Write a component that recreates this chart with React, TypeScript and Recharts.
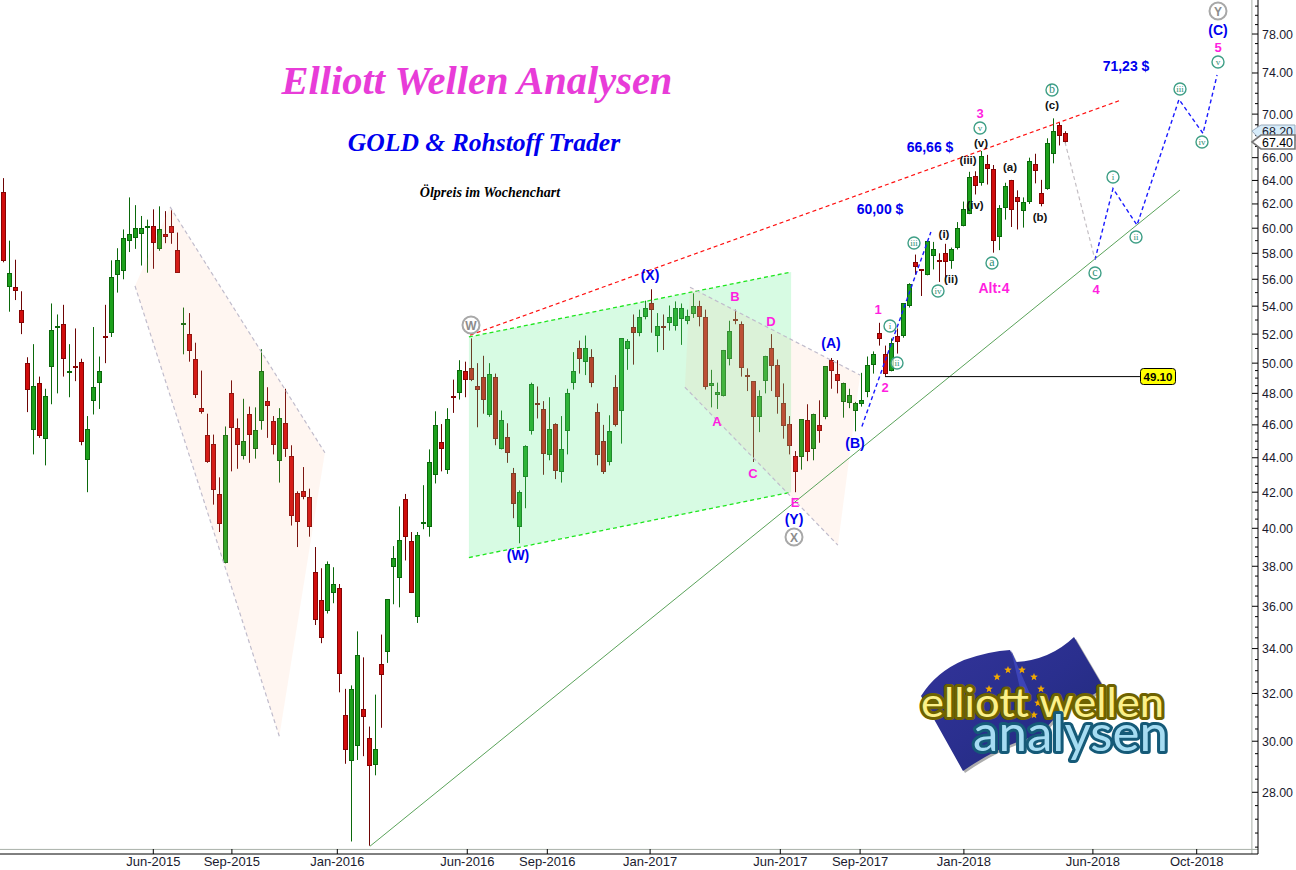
import React from "react";
import { ComposedChart, Bar, Scatter, XAxis, YAxis, ReferenceLine } from "recharts";

const opens = [
63.0,55.4,55.4,53.7,50.0,45.7,48.65,45.1,49.75,52.4,
52.75,49.35,49.8,50.05,43.85,47.5,48.7,51.9,52.05,56.35,
56.65,58.95,59.25,59.5,60.05,60.15,58.3,59.55,60.2,58.25,
52.75,52.0,50.25,47.05,45.4,44.85,41.9,38.15,48.05,45.8,
44.1,46.65,44.5,46.25,47.5,46.25,43.8,46.1,44.1,41.95,
42.05,41.7,37.7,36.3,35.75,36.65,36.9,31.1,29.2,29.8,
31.35,30.15,29.05,33.3,33.85,37.95,37.4,41.6,39.3,35.5,
40.3,40.05,43.0,44.95,43.3,47.85,48.05,49.5,49.7,48.5,
49.1,46.6,49.1,44.55,45.25,43.1,40.05,42.85,45.6,47.35,
47.0,44.15,46.05,43.15,45.6,48.65,51.05,50.05,50.45,46.8,
45.0,43.75,48.4,46.85,50.95,52.5,52.1,53.25,54.2,51.85,
52.55,52.8,52.6,53.1,52.9,53.4,54.05,53.2,48.45,47.9,
47.85,50.25,53.1,52.75,49.2,48.8,46.5,48.8,51.0,49.9,
47.4,46.05,44.1,44.05,46.3,44.55,46.0,46.5,50.2,49.3,
47.45,47.4,46.85,47.3,48.1,49.9,52.1,50.6,49.5,51.9,
51.9,54.05,57.3,56.75,56.35,57.8,57.45,58.0,57.4,58.4,
60.2,61.15,64.4,63.8,65.45,65.0,59.3,61.65,64.05,62.55,
61.4,62.15,65.45,62.9,63.3,66.35,68.95,68.2];
const highs = [
64.2,59.0,57.5,55.1,50.4,51.3,49.1,48.3,54.2,53.4,
54.1,51.3,52.4,50.3,46.55,52.5,50.45,54.1,57.45,58.4,
59.9,62.55,61.9,61.0,60.7,61.55,61.8,61.4,61.5,59.65,
53.9,53.5,51.4,49.5,46.7,45.4,42.85,45.9,48.85,46.4,
47.65,47.15,47.1,50.95,48.4,46.55,47.05,48.3,44.75,42.05,
43.45,42.2,39.0,37.9,38.25,37.95,37.1,32.2,32.35,34.8,
33.6,30.6,31.95,34.65,36.35,39.05,41.2,41.9,39.8,39.8,
42.4,44.5,46.85,46.05,47.05,48.9,50.2,50.1,51.7,50.0,
50.5,50.0,49.3,46.9,46.1,43.4,42.1,44.75,48.7,48.45,
47.5,47.75,46.1,46.55,48.3,50.75,51.55,51.9,50.95,47.35,
46.0,46.6,49.2,51.7,51.65,53.4,53.75,54.4,55.25,53.5,
53.4,54.05,54.35,54.2,53.75,54.95,54.4,53.75,49.55,48.7,
50.9,52.95,53.75,52.9,49.65,48.8,48.2,50.5,52.0,50.25,
48.65,46.55,44.4,46.35,47.3,46.7,47.55,49.8,50.35,50.2,
48.7,48.3,47.45,49.35,50.45,50.8,52.8,51.2,51.7,52.4,
54.2,55.7,57.9,56.75,58.95,58.9,58.0,58.75,58.45,60.5,
62.2,64.75,64.8,66.6,66.25,65.35,61.9,63.8,64.05,63.15,
62.55,66.0,66.35,64.05,67.75,69.6,69.2,68.4];
const lows = [
57.3,53.6,54.45,52.0,46.8,44.2,45.2,43.55,47.3,48.0,
49.1,47.75,48.8,44.75,42.0,46.65,47.0,50.0,51.8,55.0,
56.0,58.1,58.35,57.05,56.5,56.8,58.2,58.8,58.75,56.5,
50.6,50.1,47.7,46.7,43.7,41.3,39.8,38.15,43.2,43.35,
43.9,43.7,43.95,45.7,45.2,44.2,42.55,44.05,40.15,39.0,
41.6,39.55,35.1,34.25,35.65,36.15,32.05,29.1,26.2,29.25,
29.4,26.05,28.65,30.55,33.35,36.1,35.95,38.3,36.65,35.2,
39.95,39.55,42.5,43.2,43.05,46.75,47.6,47.75,48.8,45.85,
46.7,46.5,44.75,44.5,43.7,40.55,39.2,41.1,45.4,46.4,
43.0,43.85,42.75,42.55,44.2,48.25,49.3,49.2,48.4,43.55,
43.05,43.55,45.9,44.85,49.55,49.9,51.85,53.05,52.1,50.75,
50.9,52.25,52.25,51.25,52.7,53.15,52.55,48.25,47.1,47.0,
47.8,49.85,52.7,49.1,48.15,43.75,45.55,48.0,48.15,46.7,
45.15,44.2,42.0,43.3,43.8,43.85,44.9,46.35,48.3,48.0,
46.45,47.05,45.6,47.15,47.75,49.3,51.2,49.15,49.45,50.65,
51.75,53.9,56.35,54.75,56.3,56.75,55.8,55.8,56.8,58.3,
60.15,61.15,62.8,63.55,63.65,58.05,58.25,60.7,60.1,59.9,
60.05,62.0,63.75,61.8,63.2,65.5,67.1,67.15];
const closes = [
57.4,56.5,55.1,52.8,48.2,48.45,45.3,47.85,52.3,52.6,
50.3,49.5,49.65,44.95,45.75,48.4,49.5,51.75,56.15,57.45,
59.25,59.5,60.0,60.0,60.2,58.85,59.9,59.3,59.65,56.5,
52.8,50.8,47.9,46.8,43.75,42.15,40.25,45.4,45.8,44.75,
45.0,45.4,45.7,49.5,47.2,44.75,46.4,44.5,40.65,40.35,
41.75,40.05,35.35,34.5,38.1,37.1,32.85,29.65,32.2,33.7,
31.0,29.0,29.7,32.8,36.35,38.45,39.35,39.55,36.65,39.65,
40.35,43.75,46.0,44.55,46.35,47.75,49.55,48.9,48.85,48.25,
47.55,49.25,45.1,46.3,44.3,41.35,42.0,44.7,48.6,47.3,
44.2,45.75,43.2,44.55,48.05,49.5,50.3,51.0,48.65,44.15,
43.15,45.6,46.0,51.7,51.5,52.05,53.25,53.9,53.7,52.55,
52.4,53.2,53.85,53.85,53.3,54.0,53.2,48.4,48.7,48.1,
50.9,52.25,52.9,49.65,49.1,46.5,47.8,50.5,49.8,47.75,
45.9,44.7,43.15,46.35,44.35,46.65,45.6,49.8,49.5,48.8,
48.7,47.9,47.35,47.55,49.85,50.65,51.65,49.25,51.4,51.45,
54.2,55.65,56.9,56.6,58.95,58.3,57.35,57.35,58.3,60.05,
61.55,64.3,63.55,66.15,65.0,59.0,61.65,63.55,61.5,62.15,
62.2,65.7,64.85,62.0,67.35,68.4,67.95,67.4];

const xTickLabels = ["Jun-2015","Sep-2015","Jan-2016","Jun-2016","Sep-2016","Jan-2017","Jun-2017","Sep-2017","Jan-2018","Jun-2018","Oct-2018"];
const xTickWeeks = [25,38.1,55.67,77.33,90.67,107.8,129.5,142.8,160.1,181.6,198.9];
const yLabelled = [28,30,32,34,36,38,40,42,44,46,48,50,52,54,56,58,60,62,64,66,70,74,78];
const yMinor = [26,26.5,27,27.5,28.5,29,29.5,30.5,31,31.5,32.5,33,33.5,34.5,35,35.5,36.5,37,37.5,38.5,39,39.5,40.5,41,41.5,42.5,43,43.5,44.5,45,45.5,46.5,47,47.5,48.5,49,49.5,51,53,55,57,59,61,63,65,67,68,69,71,72,73,75,76,77,79,80,81];

type P = { i: number; v: number };
const zone1: P[] = [{i:27.8,v:61.75},{i:53.6,v:44.3},{i:46,v:30.2},{i:21.95,v:55.5}];
const zone2: P[] = [{i:77.6,v:51.8},{i:131.3,v:56.55},{i:131.3,v:42.0},{i:77.6,v:38.45}];
const zone3: P[] = [{i:114.45,v:55.4},{i:142.8,v:49.2},{i:139.1,v:39.1},{i:113.6,v:48.4}];
const redTrend: P[] = [{i:77.8,v:51.93},{i:186.3,v:71.35}];
const greenTrend: P[] = [{i:61.1,v:26.03},{i:196.1,v:63.17}];
const blueImpulse: P[] = [{i:143.1,v:45.9},{i:154.6,v:59.7}];
const blueProjection: P[] = [{i:181.95,v:57.5},{i:184.95,v:63.3},{i:188.95,v:60.25},{i:195.95,v:71.4},{i:199.95,v:68.2},{i:202.3,v:73.8}];
const greyProjection: P[] = [{i:176.95,v:67.4},{i:181.95,v:57.5}];
const supportLine: P[] = [{i:146.95,v:49.1},{i:189.45,v:49.1}];

const rows = opens.map((o, i) => ({ i, o, h: highs[i], l: lows[i], c: closes[i], range: [lows[i], highs[i]] }));

const Candle = (p: any) => {
  const { x, y, width, height, payload } = p;
  const { o, h, l, c } = payload;
  const cx = Math.round(x + width / 2);
  const at = (v: number) => y + (height * Math.log(h / v)) / Math.log(h / l);
  const up = c >= o;
  const top = Math.round(at(Math.max(o, c)));
  const bot = Math.max(Math.round(at(Math.min(o, c))), top + 2);
  const border = up ? "#0b680b" : "#860404";
  const fill = up ? "#1ca01c" : "#d00c0c";
  const wick = up ? "#0b680b" : "#6e0404";
  return (
    <g>
      <rect x={cx} y={y} width={1} height={Math.max(height, 1)} fill={wick} />
      <rect x={cx - 2} y={top} width={5} height={bot - top} fill={border} />
      {bot - top > 2 && <rect x={cx - 1} y={top + 1} width={3} height={bot - top - 2} fill={fill} />}
    </g>
  );
};

const noDot = () => <g />;
const poly = (fill: string, opacity: number) => (p: any) => (
  <polygon points={p.points.map((q: any) => `${q.x},${q.y}`).join(" ")} fill={fill} fillOpacity={opacity} stroke="none" />
);
const path = (stroke: string, width: number, dash?: string) => (p: any) => (
  <polyline points={p.points.map((q: any) => `${q.x},${q.y}`).join(" ")} fill="none" stroke={stroke} strokeWidth={width} strokeDasharray={dash} />
);

const XTick = (p: any) => {
  const { x, index } = p;
  return (
    <g>
      <line x1={x} x2={x} y1={849} y2={854} stroke="#000" />
      <text x={x} y={866} textAnchor="middle" fontFamily="Liberation Sans" fontSize={13} fill="#1a1a2e">{xTickLabels[index]}</text>
    </g>
  );
};
const YTick = (p: any) => {
  const { y, payload } = p;
  const lab = yLabelled.includes(payload.value);
  const X = 1258;
  return (
    <g>
      <line x1={X - (lab ? 6 : 3)} x2={X} y1={y} y2={y} stroke="#000" />
      {lab && <text x={1262} y={y + 4.5} fontFamily="Liberation Sans" fontSize={12.4} fill="#1a1a2e">{payload.value.toFixed(2)}</text>}
    </g>
  );
};

const sans = "Liberation Sans";
const serif = "Liberation Serif";
const BLUE = "#0000ee";
const PINK = "#ff1fe0";
const blueLabels: [string, number, number][] = [["(X)",650,275],["(W)",518,555],["(Y)",794,519],["(A)",831,343],["(B)",855,443],["(C)",1218,30],["60,00 $",880,209],["66,66 $",930,147],["71,23 $",1126,66]];
const pinkLabels: [string, number, number][] = [["B",735,296],["A",717,421],["C",753,473],["D",771,321],["E",795,502],["1",878,309],["2",885,387],["3",980,113],["4",1096,289],["5",1218,47],["Alt:4",994,288]];
const blackLabels: [string, number, number][] = [["(i)",944,234],["(ii)",951,279],["(iii)",968,160],["(iv)",975,205],["(v)",981,143],["(a)",1010,167],["(b)",1040,217],["(c)",1052,105]];
const greenRings: [string, number, number][] = [["iii",914,243],["iv",938,291],["i",890,326],["ii",897,363],["b",1052,90],["a",992,263],["c",1095,273],["v",980,128],["i",1113,177],["ii",1136,237],["iii",1180,89],["iv",1202,142],["v",1218,62]];
const greyRings: [string, number, number][] = [["W",471,325],["X",794,537],["Y",1218,11]];
const logoStars: [number, number][] = [[997,677],[1008,670],[1022,670],[1034,677],[1041,689],[1038,703],[1034,715],[989,689]];

const Star = ({ x, y }: { x: number; y: number }) => {
  const pts: string[] = [];
  for (let k = 0; k < 10; k++) {
    const r = k % 2 ? 1.7 : 4;
    const a = (Math.PI * k) / 5 - Math.PI / 2;
    pts.push(`${x + r * Math.cos(a)},${y + r * Math.sin(a)}`);
  }
  return <polygon points={pts.join(" ")} fill="#f2a900" />;
};

const FLAG = "M921 696 Q936 672 964 660 Q990 651 1010 650 L1016 662 Q1050 660 1074 637 L1104 688 Q1085 700 1060 712 L1040 735 Q1000 745 963 771 Z";

const LayeredText = ({ x, y, size, len, text, outer, mid, fill }: any) => {
  const common = { x, y, fontFamily: "Lato", fontSize: size, textLength: len, lengthAdjust: "spacingAndGlyphs" as const, strokeLinejoin: "round" as const };
  return (
    <g>
      <text {...common} fill="none" stroke="#555" strokeOpacity={0.45} strokeWidth={7} transform="translate(2,2)" aria-hidden="true"></text>
      <text {...common} fill={fill} stroke={outer} strokeWidth={6} paintOrder="stroke">{text}</text>
      <text {...common} fill={fill} stroke={mid} strokeWidth={3.2} paintOrder="stroke" aria-hidden="true"></text>
    </g>
  );
};

const Overlay = () => (
  <svg width={1296} height={870} style={{ position: "absolute", left: 0, top: 0, pointerEvents: "none" }}>
    <defs>
      <linearGradient id="flag" x1="0" y1="0" x2="1" y2="1">
        <stop offset="0" stopColor="#33349a" />
        <stop offset="0.5" stopColor="#2a2f8e" />
        <stop offset="1" stopColor="#202a78" />
      </linearGradient>
    </defs>
    <text x={477} y={94} textAnchor="middle" fontFamily={serif} fontWeight="bold" fontStyle="italic" fontSize={40.5} fill="#e83cd8">Elliott Wellen Analysen</text>
    <text x={484} y={151} textAnchor="middle" fontFamily={serif} fontWeight="bold" fontStyle="italic" fontSize={25.6} fill={BLUE}>GOLD &amp; Rohstoff Trader</text>
    <text x={490} y={197} textAnchor="middle" fontFamily={serif} fontWeight="bold" fontStyle="italic" fontSize={14} fill="#000">Ölpreis im Wochenchart</text>

    {blueLabels.map(([t, x, y], k) => (
      <text key={k} x={x} y={y + 5} textAnchor="middle" fontFamily={sans} fontWeight="bold" fontSize={14} fill={BLUE}>{t}</text>
    ))}
    {pinkLabels.map(([t, x, y], k) => (
      <text key={k} x={x} y={y + 5} textAnchor="middle" fontFamily={sans} fontWeight="bold" fontSize={t === "Alt:4" ? 14 : 13} fill={PINK}>{t}</text>
    ))}
    {blackLabels.map(([t, x, y], k) => (
      <text key={k} x={x} y={y + 4} textAnchor="middle" fontFamily={sans} fontWeight="bold" fontSize={11.5} fill="#111">{t}</text>
    ))}
    {greenRings.map(([t, x, y], k) => (
      <g key={k}>
        <circle cx={x} cy={y} r={6} fill="#fff" fillOpacity={0.7} stroke="#3f9f86" strokeWidth={1.4} />
        <text x={x} y={y + 3} textAnchor="middle" fontFamily={serif} fontSize={t === "a" || t === "b" || t === "c" ? 12 : 9} fill="#2f8f76">{t}</text>
      </g>
    ))}
    {greyRings.map(([t, x, y], k) => (
      <g key={k}>
        <circle cx={x} cy={y} r={8.5} fill="#fff" fillOpacity={0.8} stroke="#a8a8a8" strokeWidth={2} />
        <text x={x} y={y + 4.5} textAnchor="middle" fontFamily={sans} fontWeight="bold" fontSize={12} fill="#8c8c8c">{t}</text>
      </g>
    ))}

    <rect x={1140.5} y={368.5} width={35} height={16} rx={3} fill="#ffff00" stroke="#000" />
    <text x={1158} y={381} textAnchor="middle" fontFamily={sans} fontWeight="bold" fontSize={11.5} fill="#000">49.10</text>

    <polygon points="1252,131 1261,125 1295,125 1295,141 1261,141" fill="#d6ecfa" stroke="#9ab" />
    <text x={1262} y={136} fontFamily={sans} fontSize={12.4} fill="#1a1a2e">68.20</text>
    <polygon points="1252,142 1261,135 1295,135 1295,149 1261,149" fill="#fff" stroke="#777" strokeWidth={1.6} />
    <text x={1262} y={147} fontFamily={sans} fontSize={12.4} fill="#000">67.40</text>

    <path d={FLAG} fill="#777" opacity={0.6} transform="translate(2,2)" />
    <path d={FLAG} fill="url(#flag)" />
    <polygon points="1011,650 1016,662 1030,694 1022,697" fill="#3c44b8" />
    {logoStars.map(([x, y], k) => <Star key={k} x={x} y={y} />)}
    <LayeredText x={921} y={717} size={40} len={243} text="elliott wellen" outer="#6e6200" mid="#f2d83a" fill="#fbf08a" />
    <LayeredText x={973} y={751} size={50} len={195} text="analysen" outer="#155a78" mid="#5fb2d8" fill="#a6dcf2" />
  </svg>
);

export default function App() {
  return (
    <div style={{ position: "absolute", left: 0, top: 0, width: 1296, height: 870, background: "#fff", overflow: "hidden" }}>
      <ComposedChart width={1296} height={870} data={rows} margin={{ top: 0, right: 0, bottom: 0, left: 0 }}>
        <XAxis dataKey="i" type="number" domain={[-0.55, 209.117]} allowDataOverflow ticks={xTickWeeks} interval={0} height={16} tick={<XTick />} tickLine={false} axisLine={{ stroke: "#000" }} />
        <YAxis orientation="right" type="number" scale="log" domain={[25.76, 81.67]} allowDataOverflow ticks={[...yLabelled, ...yMinor].sort((a, b) => a - b)} interval={0} width={38} tick={<YTick />} tickLine={false} axisLine={{ stroke: "#000" }} />
        <ReferenceLine x={208.1} stroke="#a9b0a9" />
        <ReferenceLine y={25.92} stroke="#a9b0a9" />
        <Bar dataKey="range" barSize={5} shape={<Candle />} isAnimationActive={false} />
        <Scatter data={zone1} dataKey="v" shape={noDot} line={poly("#ffb080", 0.11)} isAnimationActive={false} />
        <Scatter data={zone2} dataKey="v" shape={noDot} line={poly("#60f090", 0.25)} isAnimationActive={false} />
        <Scatter data={zone3} dataKey="v" shape={noDot} line={poly("#ffb080", 0.11)} isAnimationActive={false} />
        <Scatter data={[zone1[0], zone1[1]]} dataKey="v" shape={noDot} line={path("#c0bccc", 1.2, "4 3")} isAnimationActive={false} />
        <Scatter data={[zone1[3], zone1[2]]} dataKey="v" shape={noDot} line={path("#c0bccc", 1.2, "4 3")} isAnimationActive={false} />
        <Scatter data={[zone2[0], zone2[1]]} dataKey="v" shape={noDot} line={path("#1ee61e", 1.3, "4 3")} isAnimationActive={false} />
        <Scatter data={[zone2[3], zone2[2]]} dataKey="v" shape={noDot} line={path("#1ee61e", 1.3, "4 3")} isAnimationActive={false} />
        <Scatter data={[zone3[0], zone3[1]]} dataKey="v" shape={noDot} line={path("#c0bccc", 1.2, "4 3")} isAnimationActive={false} />
        <Scatter data={[zone3[3], zone3[2]]} dataKey="v" shape={noDot} line={path("#c0bccc", 1.2, "4 3")} isAnimationActive={false} />
        <Scatter data={redTrend} dataKey="v" shape={noDot} line={path("#ff1010", 1.2, "4 3")} isAnimationActive={false} />
        <Scatter data={greenTrend} dataKey="v" shape={noDot} line={path("#5aa35a", 1)} isAnimationActive={false} />
        <Scatter data={blueImpulse} dataKey="v" shape={noDot} line={path("#1a1aff", 1.4, "4 3")} isAnimationActive={false} />
        <Scatter data={blueProjection} dataKey="v" shape={noDot} line={path("#1a1aff", 1.4, "4 3")} isAnimationActive={false} />
        <Scatter data={greyProjection} dataKey="v" shape={noDot} line={path("#c4bfc4", 1.2, "4 3")} isAnimationActive={false} />
        <Scatter data={supportLine} dataKey="v" shape={noDot} line={path("#000", 1)} isAnimationActive={false} />
      </ComposedChart>
      <Overlay />
    </div>
  );
}
